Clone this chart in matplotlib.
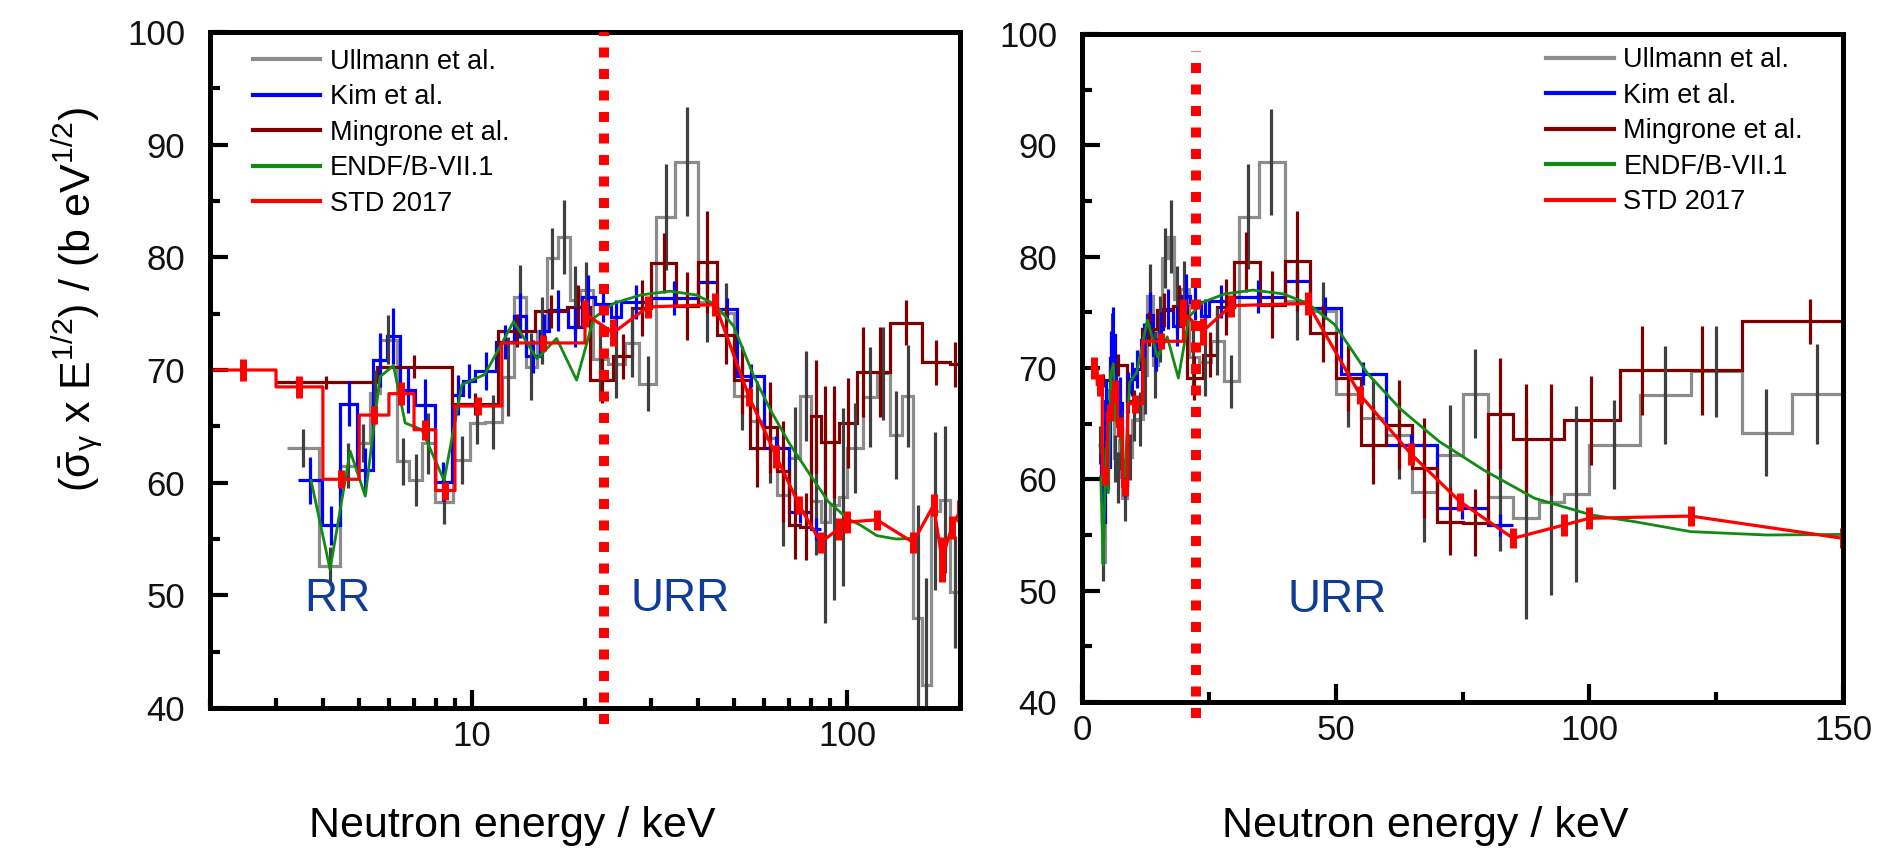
import numpy as np
import matplotlib
matplotlib.use("Agg")
import matplotlib.pyplot as plt
from matplotlib.lines import Line2D
from matplotlib.ticker import MultipleLocator, LogLocator, FuncFormatter, NullFormatter

plt.rcParams['font.family'] = ['Liberation Sans', 'DejaVu Sans']
plt.rcParams['mathtext.fontset'] = 'custom'
plt.rcParams['mathtext.rm'] = 'Liberation Sans'
plt.rcParams['mathtext.it'] = 'Liberation Sans:italic'
plt.rcParams['mathtext.default'] = 'regular'

# Ullmann et al. (bin edges in keV, averaged sigma*sqrt(E), uncertainty)
ullmann_edges = [3.2, 3.9, 4.45, 4.92, 5.35, 5.68, 6.3, 6.8, 7.34, 7.97,
                 8.9, 9.88, 10.8, 12.0, 12.9, 13.9, 14.9, 15.8, 16.9, 18.2,
                 19.4, 21.0, 23.0, 25.5, 27.9, 30.9, 34.8, 40.0, 45.0, 50.0,
                 55.0, 60.0, 65.0, 70.0, 75.0, 80.0, 85.0, 90.0, 95.0, 100.0,
                 110.0, 120.0, 130.0, 140.0, 150.0, 158.5, 167.0, 177.0, 188.0, 200.0]
ullmann_vals = [63.1, 52.6, 61.5, 63.5, 68.0, 72.7, 61.9, 60.2, 63.5, 58.3,
                62.0, 65.3, 65.4, 69.4, 76.5, 70.3, 73.5, 79.9, 81.8, 76.2,
                77.1, 71.0, 70.5, 72.4, 68.8, 83.6, 88.5, 76.0, 75.1, 67.7,
                65.5, 64.0, 58.9, 62.2, 67.7, 58.4, 56.5, 58.0, 58.7, 63.1,
                67.6, 69.7, 64.2, 67.7, 48.0, 42.0, 57.5, 58.5, 50.3]
ullmann_err = [1.7, 1.7, 2.0, 1.7, 2.0, 2.2, 2.1, 2.3, 2.7, 2.0,
               2.1, 1.9, 2.4, 3.5, 2.8, 3.0, 3.0, 2.7, 3.3, 3.0,
               2.5, 3.0, 3.0, 3.0, 2.4, 4.7, 4.8, 3.5, 2.6, 3.0,
               3.5, 4.0, 4.5, 4.5, 4.0, 4.8, 9.0, 8.4, 7.9, 4.0,
               4.4, 4.1, 3.9, 4.5, 10.0, 9.5, 7.0, 6.5, 5.0]

# Kim et al.
kim_edges = [3.44, 3.97, 4.45, 4.93, 5.45, 5.92, 6.42, 7.05, 7.95, 8.83,
             9.48, 10.2, 11.6, 12.9, 13.9, 15.2, 16.0, 18.0, 19.6, 21.3,
             23.4, 25.0, 30.0, 40.0, 45.0, 51.0, 60.0, 70.0, 80.0, 85.0]
kim_vals = [60.2, 56.2, 67.0, 61.1, 70.9, 73.0, 68.2, 66.9, 60.1, 67.8,
            69.0, 69.9, 72.5, 74.8, 71.2, 73.5, 75.3, 73.8, 76.5, 75.9,
            74.7, 76.0, 76.4, 77.8, 75.4, 69.5, 63.1, 57.4, 55.9]
kim_err = [2.1, 1.7, 2.0, 2.0, 2.4, 2.5, 2.0, 2.3, 1.7, 1.8,
           1.5, 1.7, 1.5, 2.0, 1.5, 1.5, 1.8, 1.8, 1.9, 1.6,
           1.5, 1.5, 1.5, 1.0, 1.0, 1.0, 1.0, 1.0, 1.0]

# Mingrone et al.
ming_edges = [3.0, 5.56, 8.83, 11.75, 14.7, 17.9, 20.6, 23.8, 26.7, 30.0,
              35.0, 40.0, 45.0, 50.0, 55.0, 60.0, 65.0, 70.0, 75.0, 80.0,
              85.0, 90.0, 95.0, 106.0, 115.0, 130.0, 158.5, 188.0, 200.0]
ming_vals = [68.9, 70.3, 67.0, 73.5, 75.2, 75.6, 69.1, 71.2, 75.5, 79.5,
             75.7, 79.6, 73.1, 69.1, 63.1, 64.9, 61.0, 56.2, 56.1, 65.9,
             63.6, 63.6, 65.3, 69.8, 69.8, 74.2, 70.7, 70.5]
ming_err = [0.6, 1.0, 1.0, 1.5, 1.5, 1.9, 2.0, 2.0, 2.5, 2.7,
            3.0, 4.5, 2.6, 3.0, 3.5, 4.0, 4.5, 3.0, 3.0, 5.0,
            5.0, 5.0, 4.0, 4.0, 4.0, 2.0, 2.0, 2.0]

# ENDF/B-VII.1
endf_e = [3.72, 4.18, 4.73, 5.19, 5.68, 6.17, 6.63, 7.34, 8.42, 9.39,
          10.8, 11.75, 12.9, 14.9, 16.8, 19.0, 21.1, 23.8, 28.1, 33.7,
          39.7, 44.5, 49.8, 56.3, 62.8, 70.4, 79.3, 89.2, 100.4, 108.9,
          120.0, 135.0, 150.0]
endf_v = [60.2, 52.3, 62.8, 58.8, 69.4, 70.4, 65.3, 64.7, 60.2, 68.7,
          69.6, 71.8, 74.3, 71.0, 72.8, 69.1, 74.6, 75.9, 76.65, 77.0,
          76.65, 75.8, 73.9, 69.5, 66.3, 63.4, 60.8, 58.3, 56.8, 56.2,
          55.3, 55.0, 55.05]

# STD 2017: group averages below 20 keV, pointwise above
std_edges = [2, 3, 4, 5, 6, 7, 8, 9, 12, 20]
std_steps = [70.0, 68.5, 60.3, 66.0, 67.9, 64.7, 59.3, 66.8, 72.4]
std_step_err = [1.0, 1.0, 0.8, 0.8, 1.0, 0.9, 0.8, 0.8, 0.7]
std_e = [20, 23.8, 29.4, 44.5, 54.8, 64.8, 74.5, 85, 95, 100, 120, 150, 170, 179, 190, 200]
std_v = [75.0, 73.3, 75.6, 75.8, 67.6, 62.3, 58.0, 54.7, 55.9, 56.5, 56.7, 54.7, 58.0, 53.2, 56.0, 57.5]
std_err = [1.2, 1.2, 1.0, 1.0, 0.8, 1.0, 0.8, 0.9, 1.0, 1.0, 0.9, 0.9, 1.0, 2.0, 1.0, 1.0]

urr_start = 22.5

GRAY, GRAY_ERR = '#8c8c8c', '#3f3f3f'
BLUE, DRED, GREEN, RED = '#0000ff', '#800000', '#138a13', '#ff0000'
TXT = '#0f3c96'


def centers(edges):
    e = np.asarray(edges, dtype=float)
    return np.sqrt(e[:-1] * e[1:])


def histo(ax, edges, vals, err, color, ecolor):
    vals = np.asarray(vals)
    err = np.asarray(err)
    ax.stairs(vals, edges, baseline=None, color=color, lw=2.3)
    ax.vlines(centers(edges), vals - err, vals + err, color=ecolor, lw=2.3)


def draw(ax):
    histo(ax, ullmann_edges, ullmann_vals, ullmann_err, GRAY, GRAY_ERR)
    histo(ax, kim_edges, kim_vals, kim_err, BLUE, BLUE)
    histo(ax, ming_edges, ming_vals, ming_err, DRED, DRED)
    ax.plot(endf_e, endf_v, color=GREEN, lw=2.0)

    sx = np.repeat(std_edges, 2)[1:-1]
    sy = np.repeat(std_steps, 2)
    ax.plot(np.concatenate([sx, std_e]), np.concatenate([sy, std_v]), color=RED, lw=2.3)
    ex = np.concatenate([centers(std_edges), std_e])
    ey = np.concatenate([std_steps, std_v])
    ee = np.concatenate([std_step_err, std_err])
    ax.vlines(ex, ey - ee, ey + ee, color=RED, lw=5)


def style(ax):
    ax.set_ylim(40, 100)
    ax.yaxis.set_major_locator(MultipleLocator(10))
    ax.yaxis.set_minor_locator(MultipleLocator(5))
    for s in ax.spines.values():
        s.set_linewidth(3.6)
    ax.tick_params(which='both', direction='in', width=3, top=False, right=False,
                   labelsize=25, labelcolor='#111111')
    ax.tick_params(which='major', length=13)
    ax.tick_params(which='minor', length=7.5)
    ax.tick_params(axis='y', pad=18)
    ax.tick_params(axis='x', pad=9)
    handles = [Line2D([], [], color=c, lw=3) for c in (GRAY, BLUE, DRED, GREEN, RED)]
    return handles


labels = ['Ullmann et al.', 'Kim et al.', 'Mingrone et al.', 'ENDF/B-VII.1', 'STD 2017']

fig = plt.figure(figsize=(18.78, 8.51), dpi=100)
ax1 = fig.add_axes([210 / 1878, 1 - 708 / 851, 750 / 1878, 676 / 851])
ax2 = fig.add_axes([1082 / 1878, 1 - 702 / 851, 761 / 1878, 668 / 851])

# left: log energy scale
draw(ax1)
ax1.set_xscale('log')
ax1.set_xlim(2, 200)
ax1.xaxis.set_major_locator(LogLocator(base=10))
ax1.xaxis.set_minor_locator(LogLocator(base=10, subs=np.arange(2, 10)))
ax1.xaxis.set_major_formatter(FuncFormatter(lambda v, p: f'{v:g}'))
ax1.xaxis.set_minor_formatter(NullFormatter())
h = style(ax1)
ax1.legend(h, labels, loc='upper left', bbox_to_anchor=(0.057, 0.975), frameon=False,
           fontsize=19.5, handlelength=2.5, handletextpad=0.35, labelspacing=0.35,
           borderpad=0, borderaxespad=0)
ax1.plot([urr_start, urr_start], [38.6, 100], color=RED, lw=7.2,
         linestyle=(0, (1, 1.15)), dash_capstyle='butt', clip_on=False, zorder=5)
ax1.text(4.37, 49.7, 'RR', color=TXT, fontsize=33, ha='center', va='center')
ax1.text(35.9, 49.7, 'URR', color=TXT, fontsize=33, ha='center', va='center')

# right: linear energy scale
draw(ax2)
ax2.set_xlim(0, 150)
ax2.xaxis.set_major_locator(MultipleLocator(50))
ax2.xaxis.set_minor_locator(MultipleLocator(25))
h = style(ax2)
ax2.legend(h, labels, loc='upper left', bbox_to_anchor=(0.61, 0.98), frameon=False,
           fontsize=19.5, handlelength=2.5, handletextpad=0.35, labelspacing=0.35,
           borderpad=0, borderaxespad=0)
ax2.plot([urr_start, urr_start], [38.6, 98.5], color=RED, lw=7.2,
         linestyle=(0, (1, 1.15)), dash_capstyle='butt', clip_on=False, zorder=5)
ax2.text(50.2, 49.2, 'URR', color=TXT, fontsize=33, ha='center', va='center')

fig.text(78 / 1878, 1 - 300 / 851,
         r'($\bar{\sigma}_{\gamma}$ x E$^{1/2}$) / (b eV$^{1/2}$)',
         rotation=90, ha='center', va='center', fontsize=31)
fig.text(512 / 1878, 1 - 826 / 851, 'Neutron energy / keV', ha='center', va='center', fontsize=31)
fig.text(1425 / 1878, 1 - 826 / 851, 'Neutron energy / keV', ha='center', va='center', fontsize=31)

fig.savefig('out.png', dpi=100)
